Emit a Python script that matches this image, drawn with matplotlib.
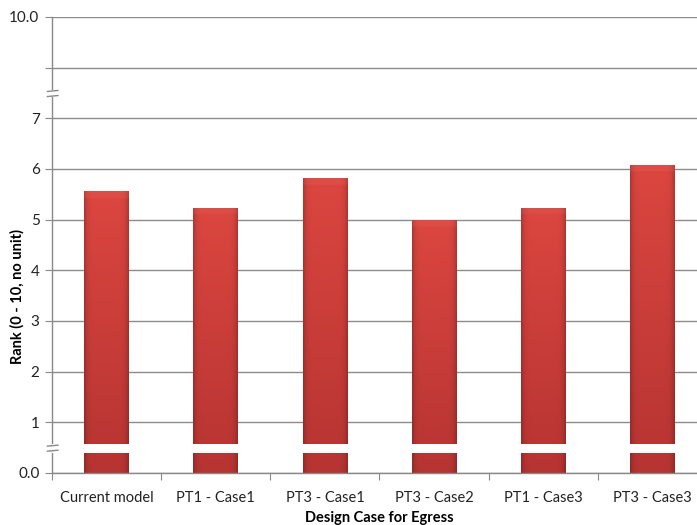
import numpy as np
import matplotlib
matplotlib.use("Agg")
import matplotlib.pyplot as plt
from matplotlib.lines import Line2D
from matplotlib.patches import Rectangle

categories = ["Current model", "PT1 - Case1", "PT3 - Case1", "PT3 - Case2", "PT1 - Case3", "PT3 - Case3"]
values = [5.56, 5.24, 5.83, 4.99, 5.24, 6.07]
ytick_pos = [0, 1, 2, 3, 4, 5, 6, 7, 8, 9]
ytick_labels = ["0.0", "1", "2", "3", "4", "5", "6", "7", "", "10.0"]
xlabel = "Design Case for Egress"
ylabel = "Rank (0 - 10, no unit)"

plt.rcParams['font.family'] = ['Lato', 'DejaVu Sans']

fig = plt.figure(figsize=(6.97, 5.25), dpi=100)
W, H = 697, 525
left, right, top, bottom = 52, 707, 17, 473
ax = fig.add_axes([left / W, 1 - bottom / H, (right - left) / W, (bottom - top) / H])

x = np.arange(len(categories))
bars = ax.bar(x, values, width=0.41, color="#c83a36", zorder=2, linewidth=0)

# gradient shading for 3D-like bars
ny, nx = 200, 60
xs = np.linspace(-1, 1, nx)
ys = np.linspace(0, 1, ny)[:, None]
edge = 1 - 0.22 * np.abs(xs) ** 8
top_c = np.array([220, 70, 64]) / 255
bot_c = np.array([182, 52, 50]) / 255
for b in bars:
    h = b.get_height()
    frac = ys
    col = bot_c[None, None, :] * (1 - frac[..., None]) + top_c[None, None, :] * frac[..., None]
    col = col * edge[None, :, None]
    bevel_h = 0.12 / h
    mask = (ys[:, 0] > 1 - bevel_h)
    col[mask] = col[mask] * 0.85 + np.array([0.95, 0.45, 0.42]) * 0.15
    img = np.clip(col, 0, 1)
    im = ax.imshow(img, extent=[b.get_x(), b.get_x() + b.get_width(), 0, h],
                   origin="lower", aspect="auto", zorder=2.1, interpolation="bilinear")
    im.set_clip_path(b)

ax.set_xlim(-0.5, len(categories) - 0.5)
ax.set_ylim(0, 9)
ax.set_yticks(ytick_pos)
ax.set_yticklabels(ytick_labels, fontsize=11, color="#222222")
ax.set_xticks(np.arange(len(categories) + 1) - 0.5, minor=False)
ax.set_xticklabels([""] * (len(categories) + 1))
ax.set_xticks(x, minor=True)
ax.set_xticklabels(categories, minor=True, fontsize=10.5, color="#222222")
ax.tick_params(axis="x", which="minor", length=0, pad=13)
ax.tick_params(axis="x", which="major", length=5, color="#888888", direction="out")
ax.tick_params(axis="y", length=5, color="#888888", direction="out", pad=4)

ax.grid(axis="y", color="#8c8c8c", linewidth=1.0, zorder=1)
ax.set_axisbelow(True)
for s in ["top", "right"]:
    ax.spines[s].set_visible(False)
for s in ["left", "bottom"]:
    ax.spines[s].set_color("#888888")
    ax.spines[s].set_linewidth(1.0)

# break bands
ax.axhspan(0.40, 0.57, color="white", zorder=3, linewidth=0)
trans = ax.get_yaxis_transform()
for yc in [0.49, 7.49]:
    ax.add_patch(Rectangle((-0.02, yc - 0.06), 0.04, 0.12, transform=trans,
                           color="white", zorder=4, clip_on=False, linewidth=0))
    for dy in [-0.05, 0.05]:
        ax.add_line(Line2D([-0.007, 0.009], [yc + dy - 0.01, yc + dy + 0.01], transform=trans,
                           color="#888888", linewidth=1.0, zorder=5, clip_on=False))

ax.set_xlabel(xlabel, fontsize=10.5, fontweight="bold")
ax.xaxis.set_label_coords(0.5, -(518 - 473) / 456)
ax.xaxis.label.set_va("center")
ax.set_ylabel(ylabel, fontsize=10.5, fontweight="bold")
ax.yaxis.set_label_coords(-(52 - 17) / 655, (473 - 297) / 456)
ax.yaxis.label.set_va("center")

fig.savefig("out.png", dpi=100)
